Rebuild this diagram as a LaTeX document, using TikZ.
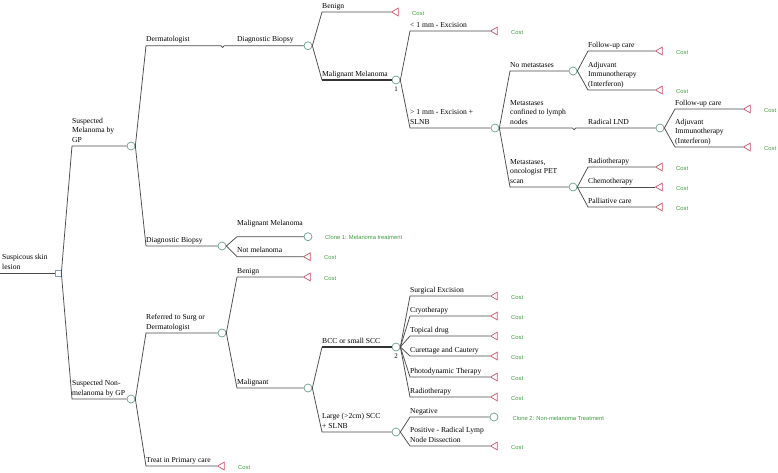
\documentclass[tikz,border=0pt]{standalone}
\usepackage{fontspec}
\setmainfont{Liberation Serif}
\newfontfamily\costfont{Liberation Sans}
\usetikzlibrary{shapes.geometric}
\definecolor{edgec}{HTML}{4A4A4A}
\definecolor{chc}{HTML}{6A9F8F}
\definecolor{trc}{HTML}{C8566E}
\definecolor{dcc}{HTML}{7F9FB5}
\definecolor{grn}{HTML}{3E9A3E}
\begin{document}
\begin{tikzpicture}[x=1pt,y=-1pt,
 edge/.style={draw=edgec,line width=0.75pt},
 bold/.style={draw=edgec!70!black,line width=2pt},
 chance/.style={circle,draw=chc,fill=white,line width=0.7pt,minimum size=8pt,inner sep=0pt},
 term/.style={regular polygon,regular polygon sides=3,shape border rotate=90,draw=trc,line width=0.7pt,minimum size=9pt,inner sep=0pt},
 dec/.style={rectangle,draw=dcc,fill=white,line width=0.7pt,minimum size=6pt,inner sep=0pt},
 lab/.style={anchor=south west,inner sep=0pt,align=left,font=\fontsize{7.6}{9.3}\selectfont,execute at end node=\strut,yshift=0.8pt},
 cost/.style={anchor=west,inner sep=0pt,text=grn,font=\costfont\fontsize{5.8}{7}\selectfont},
 num/.style={inner sep=0pt,font=\fontsize{7}{8}\selectfont},
]
\useasboundingbox (0,0) rectangle (778,472);
\newcommand\br[4]{\draw[edge] (#1.east) -- (#2,0 |- #3) -- (#3.west); \node[lab] (l#3) at (#2,0 |- #3) {#4};}
\newcommand\cst[3]{\node[cost] (#1) at ([xshift=16pt,yshift=-1.2pt]#2.center) {#3};}

% nodes
\coordinate (start) at (0,273);
\node[dec] (D0) at (58,273) {};
\node[chance] (C1) at (131,146) {};
\node[chance] (C2) at (131,399) {};
\node[chance] (C3) at (308,45.7) {};
\node[chance] (C4) at (222,246) {};
\node[chance] (C5) at (396,80) {};
\node[chance] (C6) at (495,128) {};
\node[chance] (C7) at (573,71) {};
\node[chance] (C8) at (660,128) {};
\node[chance] (C9) at (573,187) {};
\node[chance] (C10) at (308,236.7) {};
\node[chance] (C11) at (222,333) {};
\node[chance] (C12) at (308,388) {};
\node[chance] (C13) at (396,347) {};
\node[chance] (C14) at (396,432) {};
\node[chance] (C15) at (494,417) {};

\node[term] (T1) at (396,12) {};
\node[term] (T2) at (495,31) {};
\node[term] (T3) at (660,51) {};
\node[term] (T4) at (660,90) {};
\node[term] (T5) at (748,109) {};
\node[term] (T6) at (748,147) {};
\node[term] (T7) at (660,167) {};
\node[term] (T8) at (660,187) {};
\node[term] (T9) at (660,207) {};
\node[term] (T10) at (308,256.7) {};
\node[term] (T11) at (308,277) {};
\node[term] (T12) at (222,466) {};
\node[term] (T13) at (495,296) {};
\node[term] (T14) at (495,316) {};
\node[term] (T15) at (495,336) {};
\node[term] (T16) at (495,356) {};
\node[term] (T17) at (495,377) {};
\node[term] (T18) at (495,397) {};
\node[term] (T19) at (495,446) {};

% root
\draw[edge] (start) -- (D0.west);
\node[lab] (lroot) at (2,273) {Suspicous skin\\lesion};
\br{D0}{72}{C1}{Suspected\\Melanoma by\\GP}
\br{D0}{72}{C2}{Suspected Non-\\melanoma by GP}

% melanoma by GP
\draw[edge] (C1.east) -- (146,0 |- C3) -- (221,0 |- C3) -- ++(1.6,1.8) -- ++(1.6,-1.8) -- (C3.west);
\node[lab] (lderm) at (146,0 |- C3) {Dermatologist};
\node[lab] (ldb) at (237,0 |- C3) {Diagnostic Biopsy};
\br{C1}{146}{C4}{Diagnostic Biopsy}

\br{C3}{322}{T1}{Benign}
\draw[edge] (C3.east) -- (322,0 |- C5);
\draw[bold] (322,0 |- C5) -- (C5.west);
\node[lab] (lmm) at (322,0 |- C5) {Malignant Melanoma};
\node[num] (n1) at (396,89) {1};

\br{C5}{410}{T2}{< 1 mm - Excision}
\br{C5}{410}{C6}{> 1 mm - Excision +\\SLNB}

\br{C6}{510}{C7}{No metastases}
\draw[edge] (C6.east) -- (510,0 |- C8) -- (572.5,0 |- C8) -- ++(1.6,1.8) -- ++(1.6,-1.8) -- (C8.west);
\node[lab] (lmcl) at (510,0 |- C8) {Metastases\\confined to lymph\\nodes};
\node[lab] (lrlnd) at (588,0 |- C8) {Radical LND};
\br{C6}{510}{C9}{Metastases,\\oncologist PET\\scan}

\br{C7}{588}{T3}{Follow-up care}
\br{C7}{588}{T4}{Adjuvant\\Immunotherapy\\(Interferon)}
\br{C8}{675}{T5}{Follow-up care}
\br{C8}{675}{T6}{Adjuvant\\Immunotherapy\\(Interferon)}
\br{C9}{588}{T7}{Radiotherapy}
\br{C9}{588}{T8}{Chemotherapy}
\br{C9}{588}{T9}{Palliative care}

\draw[edge] (C4.east) -- (237,0 |- C10) -- (C10.west);
\node[lab,yshift=7pt] (lmm2) at (237,0 |- C10) {Malignant Melanoma};
\br{C4}{237}{T10}{Not melanoma}

% non-melanoma
\br{C2}{146}{C11}{Referred to Surg or\\Dermatologist}
\br{C2}{146}{T12}{Treat in Primary care}
\br{C11}{237}{T11}{Benign}
\br{C11}{237}{C12}{Malignant}

\draw[edge] (C12.east) -- (322,0 |- C13);
\draw[bold] (322,0 |- C13) -- (C13.west);
\node[lab] (lbcc) at (322,0 |- C13) {BCC or small SCC};
\node[num] (n2) at (396,356) {2};
\br{C12}{322}{C14}{Large (>2cm) SCC\\+ SLNB}

\br{C13}{410}{T13}{Surgical Excision}
\br{C13}{410}{T14}{Cryotherapy}
\br{C13}{410}{T15}{Topical drug}
\br{C13}{410}{T16}{Curettage and Cautery}
\br{C13}{410}{T17}{Photodynamic Therapy}
\br{C13}{410}{T18}{Radiotherapy}

\br{C14}{410}{C15}{Negative}
\br{C14}{410}{T19}{Positive - Radical Lymp\\Node Dissection}

% payoffs
\cst{k1}{T1}{Cost}
\cst{k2}{T2}{Cost}
\cst{k3}{T3}{Cost}
\cst{k4}{T4}{Cost}
\cst{k5}{T5}{Cost}
\cst{k6}{T6}{Cost}
\cst{k7}{T7}{Cost}
\cst{k8}{T8}{Cost}
\cst{k9}{T9}{Cost}
\cst{k10}{T10}{Cost}
\cst{k11}{T11}{Cost}
\cst{k12}{T12}{Cost}
\cst{k13}{T13}{Cost}
\cst{k14}{T14}{Cost}
\cst{k15}{T15}{Cost}
\cst{k16}{T16}{Cost}
\cst{k17}{T17}{Cost}
\cst{k18}{T18}{Cost}
\cst{k19}{T19}{Cost}
\node[cost] (cl1) at ([xshift=17pt,yshift=-1.2pt]C10.center) {Clone 1: Melanoma treatment};
\node[cost] (cl2) at ([xshift=18.5pt,yshift=-1.2pt]C15.center) {Clone 2: Non-melanoma Treatment};
\end{tikzpicture}
\end{document}
